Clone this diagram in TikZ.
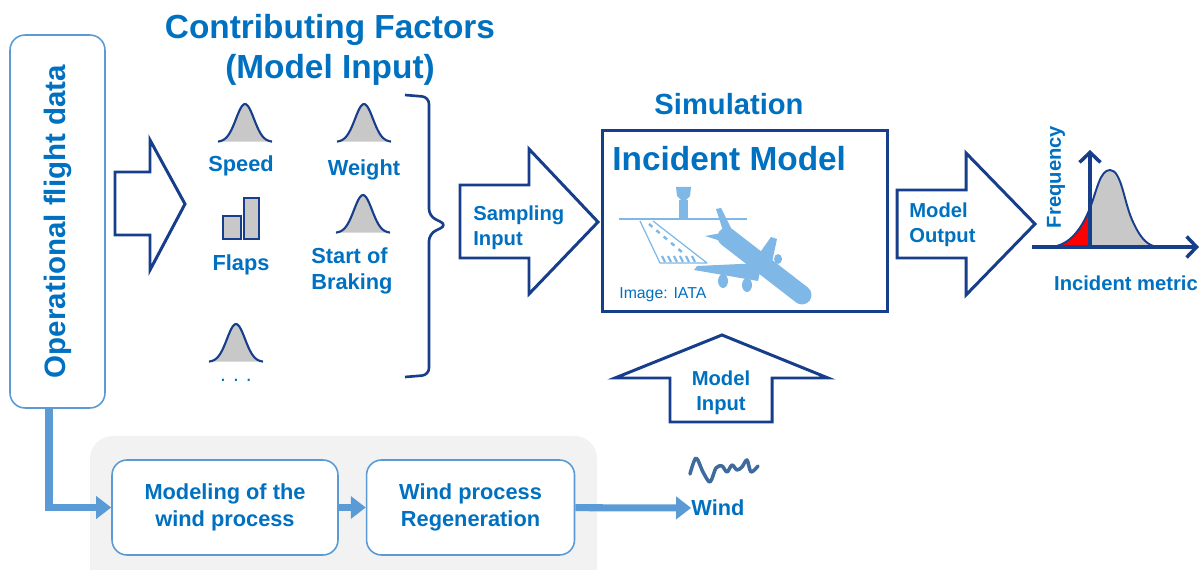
\documentclass[tikz,border=0pt]{standalone}
\usepackage{fontspec}
\setmainfont{Liberation Sans}
\usepackage{graphicx}
\usetikzlibrary{positioning, arrows.meta, calc}

\definecolor{txtblue}{RGB}{0,112,192}
\definecolor{navy}{RGB}{22,62,138}
\definecolor{lightblue}{RGB}{91,155,213}
\definecolor{planeblue}{RGB}{127,184,230}
\definecolor{panel}{RGB}{242,242,242}
\definecolor{fillgray}{RGB}{200,200,200}
\definecolor{windblue}{RGB}{62,106,158}

\begin{document}
\begin{tikzpicture}[
  x=0.02cm, y=-0.02cm,
  head/.style={text=txtblue, align=center, inner sep=0pt,
               font=\fontsize{19}{22.7}\selectfont\bfseries},
  sub/.style={text=txtblue, inner sep=0pt, font=\fontsize{16.6}{20}\selectfont\bfseries},
  lbl/.style={text=txtblue, align=left, inner sep=0pt,
              font=\fontsize{12.4}{14.8}\selectfont\bfseries},
  arrtxt/.style={text=txtblue, align=left, inner sep=0pt,
                 font=\fontsize{11.5}{14.2}\selectfont\bfseries},
  opbox/.style={draw=lightblue, line width=0.9pt, rounded corners=0.3cm,
                minimum width=1.9cm, minimum height=7.46cm, inner sep=0pt,
                text=txtblue, font=\fontsize{16.8}{20}\selectfont\bfseries},
  blk/.style={draw=navy, line width=1.7pt, fill=white, line join=miter},
  simbox/.style={draw=navy, line width=1.7pt, minimum width=5.72cm,
                 minimum height=3.64cm},
  wbox/.style={draw=lightblue, line width=0.9pt, fill=white, rounded corners=0.3cm,
               minimum height=1.9cm, align=center, text=txtblue,
               font=\fontsize{12.4}{15.3}\selectfont\bfseries},
  flow/.style={draw=lightblue, line width=4pt,
               -{Triangle[length=0.3cm, width=0.44cm]}},
  axis/.style={draw=navy, line width=2.2pt,
               -{Straight Barb[length=0.2cm, width=0.42cm, line width=2pt]}},
  icon/.style={fill=fillgray, draw=navy, line width=1.2pt},
  bell/.pic={
    \fill[fillgray] plot[domain=-27:27, samples=37, smooth] (\x,{-38*exp(-(\x)*(\x)/162)}) -- cycle;
    \draw[navy, line width=1.2pt] plot[domain=-27:27, samples=37, smooth] (\x,{-38*exp(-(\x)*(\x)/162)});
  },
]
\useasboundingbox (0,0) rectangle (1201,570);

\fill[panel, rounded corners=0.45cm] (90,436) rectangle (597,600);

\node[opbox] (opd) at (57.5,221.5) {\rotatebox{90}{Operational flight data}};

\node[head] (cf) at (330,50) {Contributing Factors\\(Model Input)};

\draw[blk] (115,172) -- (150,172) -- (150,140) -- (185,204) -- (150,270)
  -- (150,235) -- (115,235) -- cycle;

\pic at (245,142) {bell};
\pic at (364,142) {bell};
\pic at (363,233) {bell};
\pic at (236,362) {bell};
\draw[icon] (223,216) rectangle (241,239);
\draw[icon] (244,198) rectangle (259,239);

\node[lbl] (speed) at (241,166) {Speed};
\node[lbl] (weight) at (364,170) {Weight};
\node[lbl] (flaps) at (241,265) {Flaps};
\node[lbl, anchor=west] (brake) at (311,271) {Start of\\Braking};
\node[lbl, font=\fontsize{12}{14}\selectfont] (more) at (236,380) {.\,\,.\,\,.};

\draw[navy, line width=1.5pt, rounded corners=4pt] (405,95) -- (429,97) -- (429,216)
  -- (447,225) -- (429,234) -- (429,375) -- (405,377);

\draw[blk] (460,185) -- (529,185) -- (529,149) -- (598,222) -- (529,294)
  -- (529,258) -- (460,258) -- cycle;
\node[arrtxt, anchor=west] (samp) at (473,228) {Sampling\\Input};

\node[sub] (sim) at (729,104) {Simulation};
\node[simbox] (im) at (745,221) {};
\node[head, anchor=west] (imt) at (612,159) {Incident Model};

\draw[planeblue, line width=1.6pt] (619,219) -- (747,219);
\fill[planeblue] (679,200) rectangle (688,219);
\fill[planeblue] (676,187) -- (691,187) -- (690,196) -- (686,200) -- (681,200)
  -- (677,196) -- cycle;
\draw[planeblue, line width=0.7pt, line join=round] (640,221) -- (660,263)
  -- (707,263) -- (653,221);
\draw[planeblue, line width=1.4pt, dash pattern=on 2.5pt off 3pt] (649,224) -- (683,253);
\foreach \i in {0,...,5}
  \draw[planeblue, line width=1.2pt] ($(665,262)+(\i*6,0)$) -- ++(-3,-6);
\fill[planeblue] (716,209) -- (721,208) -- (734,234) -- (726,240) -- cycle;
\fill[planeblue] (705,236) -- (722,233) -- (735,240) -- (724,242) -- cycle;
\draw[planeblue, line width=0.38cm, line cap=round] (727,237) -- (802,295);
\fill[planeblue] (754,261) -- (771,237) -- (777,239) -- (771,267) -- cycle;
\fill[planeblue] (762,263) -- (697,266) -- (694,270) -- (758,281) -- cycle;
\fill[planeblue] (723,281) ellipse [x radius=5, y radius=7];
\fill[planeblue] (747,285) ellipse [x radius=5, y radius=7];
\fill[planeblue] (778,259) ellipse [x radius=4, y radius=5];
\node[text=txtblue, inner sep=0pt, font=\fontsize{9}{11}\selectfont, anchor=west]
  (iata) at (619,295) {Image: IATA};

\draw[blk] (670,422) -- (670,378) -- (615,378) -- (722,335) -- (828,378)
  -- (772,378) -- (772,422) -- cycle;
\node[arrtxt, align=center] (minp) at (721,393) {Model\\Input};

\draw[blk] (897,190) -- (966,190) -- (966,153) -- (1035,224) -- (966,295)
  -- (966,258) -- (897,258) -- cycle;
\node[arrtxt, anchor=west] (mout) at (909,225) {Model\\Output};

\begin{scope}
  \clip (1050,247) .. controls (1070,246) and (1082,228) .. (1090,208)
    .. controls (1097,190) and (1100,170) .. (1110,170)
    .. controls (1122,170) and (1124,205) .. (1134,224)
    .. controls (1141,239) and (1148,246) .. (1158,247) -- cycle;
  \fill[red] (1040,140) rectangle (1090,250);
  \fill[fillgray] (1090,140) rectangle (1170,250);
\end{scope}
\draw[navy, line width=1.1pt] (1050,247) .. controls (1070,246) and (1082,228) .. (1090,208)
    .. controls (1097,190) and (1100,170) .. (1110,170)
    .. controls (1122,170) and (1124,205) .. (1134,224)
    .. controls (1141,239) and (1148,246) .. (1158,247);
\draw[axis] (1032,247) -- (1199,247);
\draw[axis] (1090,247) -- (1090,150);
\node[arrtxt, rotate=90] (freq) at (1056,177) {Frequency};
\node[arrtxt] (metric) at (1126,283) {Incident metric};

\node[wbox, minimum width=4.52cm] (mod) at (225,507.5) {Modeling of the\\wind process};
\node[wbox, minimum width=4.16cm, right=0.54cm of mod] (reg) {Wind process\\Regeneration};
\node[lbl] (wind) at (718,508) {Wind};
\draw[windblue, line width=2pt, line join=round, line cap=round]
  plot[smooth, tension=0.5] coordinates {(690,474) (696,458) (703,472) (710,482)
  (716,468) (722,466) (727,472) (732,465) (737,470) (742,467) (747,460) (751,472) (758,466)};

\draw[flow] ([xshift=-0.17cm]opd.south) |- (mod.west);
\draw[flow] (mod) -- (reg);
\draw[flow] (reg) -- (wind);

\end{tikzpicture}
\end{document}
